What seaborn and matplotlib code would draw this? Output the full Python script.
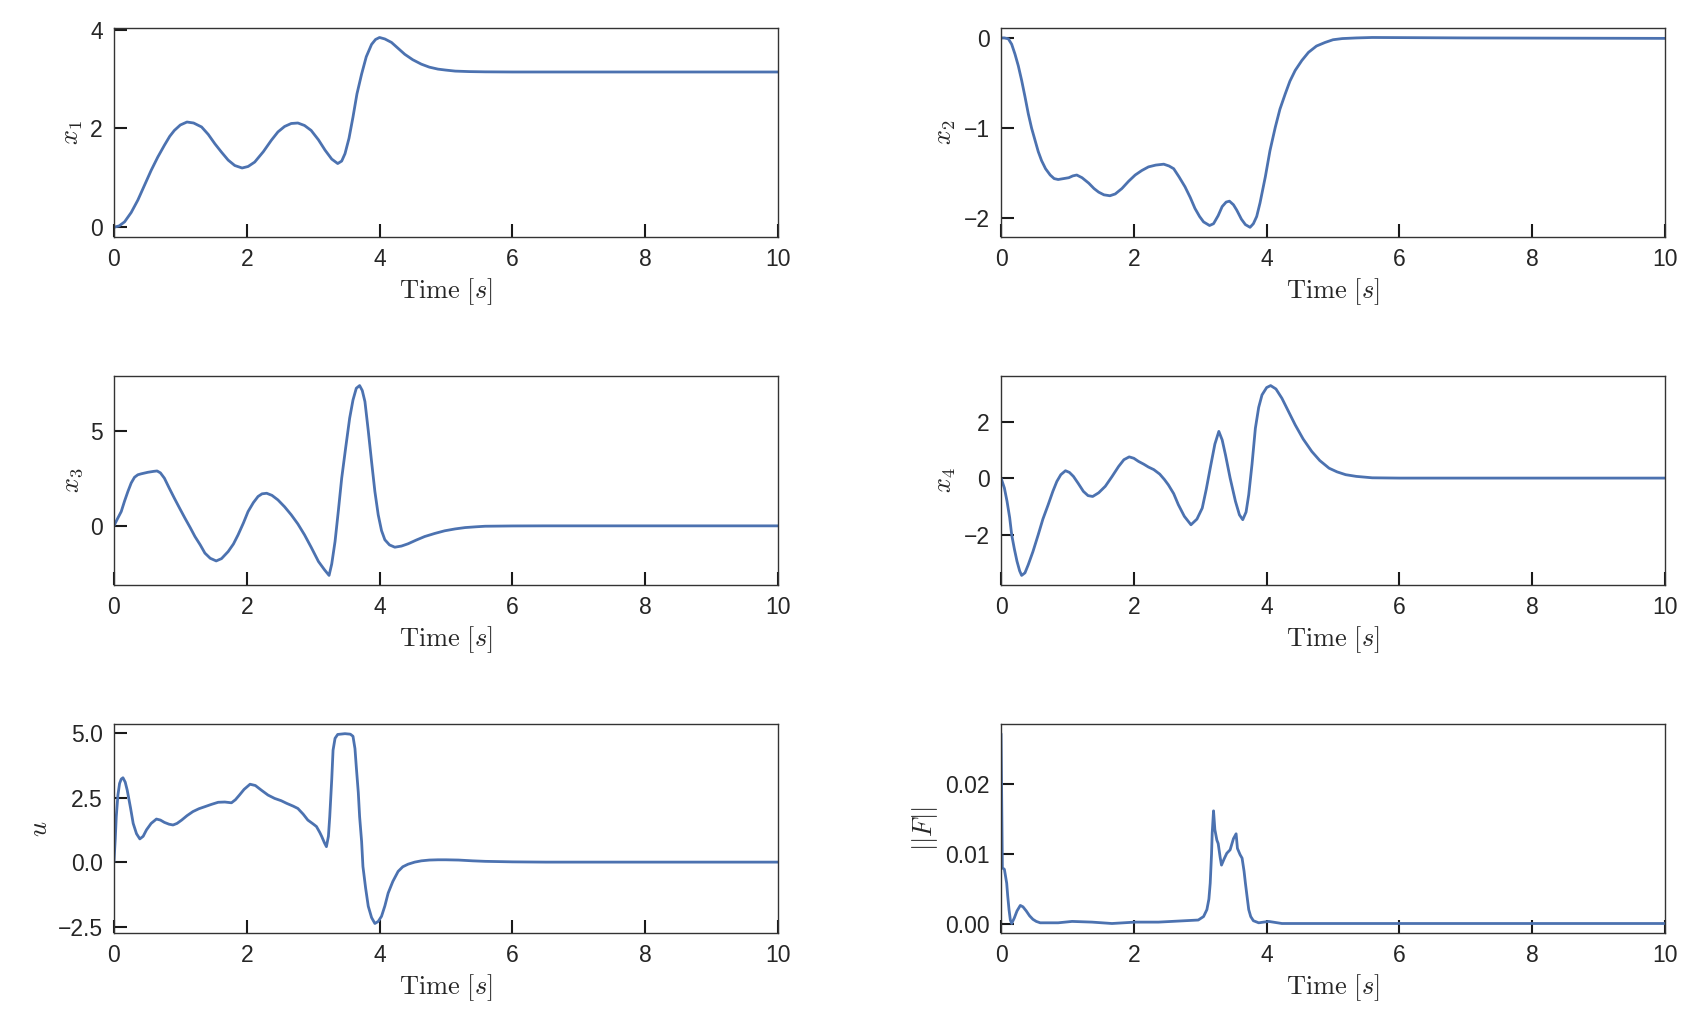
import matplotlib
matplotlib.use('Agg')
import matplotlib.pyplot as plt
import seaborn as sns

# Values (time in seconds)
t_x1 = [0, 0.08, 0.16, 0.26, 0.36, 0.46, 0.56, 0.66, 0.76, 0.84, 0.91, 1.0, 1.1, 1.2, 1.32,
        1.42, 1.52, 1.62, 1.72, 1.82, 1.93, 2.02, 2.12, 2.25, 2.37, 2.47, 2.57, 2.67, 2.77, 2.87,
        2.97, 3.08, 3.18, 3.28, 3.37, 3.43, 3.48, 3.54, 3.6, 3.66, 3.73, 3.8, 3.88, 3.94, 4.0,
        4.08, 4.18, 4.28, 4.38, 4.5, 4.63, 4.75, 4.88, 5.0, 5.14, 5.35, 5.59, 6, 8, 10]
x1 = [0.0, 0.03, 0.11, 0.3, 0.55, 0.85, 1.15, 1.42, 1.66, 1.84, 1.96, 2.07, 2.13, 2.11, 2.03,
      1.88, 1.69, 1.52, 1.36, 1.25, 1.2, 1.23, 1.32, 1.53, 1.76, 1.93, 2.04, 2.1, 2.11, 2.06,
      1.96, 1.77, 1.56, 1.38, 1.29, 1.34, 1.49, 1.8, 2.23, 2.7, 3.1, 3.45, 3.7, 3.8, 3.84,
      3.81, 3.74, 3.62, 3.5, 3.39, 3.3, 3.24, 3.2, 3.18, 3.16, 3.15, 3.145, 3.142, 3.142, 3.142]

t_x2 = [0, 0.05, 0.11, 0.16, 0.21, 0.26, 0.31, 0.36, 0.41, 0.46, 0.51, 0.56, 0.61, 0.67, 0.74,
        0.8, 0.86, 0.94, 1.02, 1.08, 1.14, 1.22, 1.32, 1.4, 1.47, 1.55, 1.64, 1.72, 1.82, 1.92,
        2.02, 2.12, 2.22, 2.33, 2.45, 2.53, 2.6, 2.68, 2.77, 2.85, 2.92, 2.99, 3.05, 3.14, 3.2,
        3.27, 3.33, 3.39, 3.44, 3.5, 3.55, 3.62, 3.68, 3.75, 3.8, 3.85, 3.9, 3.98, 4.05, 4.13,
        4.2, 4.28, 4.35, 4.43, 4.53, 4.63, 4.75, 4.88, 5.0, 5.14, 5.35, 5.59, 7, 10]
x2 = [0.0, 0.0, -0.01, -0.07, -0.18, -0.31, -0.47, -0.65, -0.84, -1.0, -1.13, -1.26, -1.36,
      -1.45, -1.52, -1.56, -1.57, -1.56, -1.55, -1.53, -1.52, -1.55, -1.61, -1.67, -1.71, -1.74,
      -1.75, -1.73, -1.67, -1.59, -1.52, -1.47, -1.43, -1.41, -1.4, -1.42, -1.45, -1.54, -1.65,
      -1.77, -1.89, -1.98, -2.04, -2.08, -2.06, -1.97, -1.87, -1.82, -1.81, -1.85, -1.91, -2.01,
      -2.07, -2.1, -2.06, -1.98, -1.83, -1.54, -1.25, -0.99, -0.79, -0.62, -0.48, -0.36, -0.25,
      -0.16, -0.09, -0.05, -0.02, -0.007, 0.0, 0.005, 0.0, -0.005]

t_x3 = [0, 0.05, 0.11, 0.16, 0.21, 0.26, 0.31, 0.36, 0.41, 0.51, 0.6, 0.65, 0.7, 0.76, 0.83,
        0.91, 0.99, 1.07, 1.15, 1.22, 1.3, 1.37, 1.45, 1.54, 1.62, 1.72, 1.8, 1.87, 1.95, 2.02,
        2.1, 2.17, 2.23, 2.3, 2.38, 2.47, 2.57, 2.67, 2.77, 2.87, 2.97, 3.08, 3.17, 3.24, 3.28,
        3.33, 3.38, 3.43, 3.49, 3.55, 3.6, 3.65, 3.7, 3.74, 3.78, 3.83, 3.88, 3.93, 3.98, 4.03,
        4.08, 4.15, 4.23, 4.33, 4.43, 4.55, 4.68, 4.83, 4.98, 5.14, 5.29, 5.45, 5.59, 6.0, 6.5, 10]
x3 = [0.0, 0.35, 0.75, 1.3, 1.8, 2.25, 2.55, 2.68, 2.73, 2.81, 2.86, 2.88, 2.78, 2.5, 2.0,
      1.45, 0.92, 0.4, -0.1, -0.56, -1.0, -1.43, -1.7, -1.84, -1.72, -1.35, -0.95, -0.47, 0.15,
      0.75, 1.22, 1.54, 1.68, 1.71, 1.6, 1.36, 1.0, 0.58, 0.1, -0.47, -1.12, -1.87, -2.3, -2.6,
      -2.0, -0.82, 0.8, 2.5, 4.1, 5.65, 6.6, 7.22, 7.36, 7.1, 6.52, 5.0, 3.37, 1.8, 0.58, -0.25,
      -0.73, -1.0, -1.12, -1.06, -0.94, -0.75, -0.56, -0.4, -0.26, -0.16, -0.09, -0.05, -0.02,
      -0.005, 0.0, 0.0]

t_x4 = [0, 0.05, 0.09, 0.13, 0.16, 0.2, 0.24, 0.28, 0.31, 0.36, 0.41, 0.48, 0.56, 0.63, 0.71,
        0.78, 0.84, 0.9, 0.97, 1.03, 1.09, 1.16, 1.24, 1.31, 1.38, 1.47, 1.57, 1.67, 1.77, 1.85,
        1.93, 2.0, 2.07, 2.15, 2.22, 2.3, 2.39, 2.46, 2.52, 2.6, 2.67, 2.76, 2.86, 2.95, 3.03,
        3.09, 3.15, 3.22, 3.28, 3.33, 3.38, 3.45, 3.53, 3.59, 3.64, 3.69, 3.73, 3.78, 3.83, 3.88,
        3.93, 4.0, 4.06, 4.14, 4.23, 4.33, 4.43, 4.55, 4.68, 4.8, 4.94, 5.06, 5.19, 5.35, 5.59,
        6.0, 10]
x4 = [0.0, -0.35, -0.82, -1.4, -2.0, -2.5, -2.94, -3.28, -3.44, -3.35, -3.06, -2.6, -2.0,
      -1.45, -0.94, -0.47, -0.12, 0.12, 0.26, 0.2, 0.06, -0.18, -0.47, -0.62, -0.65, -0.52,
      -0.29, 0.05, 0.41, 0.65, 0.75, 0.7, 0.59, 0.49, 0.39, 0.3, 0.14, -0.05, -0.24, -0.55,
      -0.94, -1.35, -1.65, -1.45, -1.06, -0.4, 0.35, 1.2, 1.65, 1.35, 0.82, 0.0, -0.82, -1.3,
      -1.47, -1.2, -0.59, 0.5, 1.76, 2.5, 2.94, 3.2, 3.27, 3.15, 2.82, 2.35, 1.88, 1.38, 0.94,
      0.62, 0.35, 0.22, 0.12, 0.06, 0.01, 0.0, 0.0]

t_u = [0, 0.02, 0.035, 0.06, 0.085, 0.11, 0.136, 0.17, 0.2, 0.25, 0.29, 0.34, 0.39, 0.44, 0.49,
       0.56, 0.64, 0.7, 0.76, 0.83, 0.89, 0.95, 1.02, 1.1, 1.19, 1.28, 1.37, 1.47, 1.57, 1.67,
       1.77, 1.83, 1.89, 1.96, 2.05, 2.13, 2.22, 2.32, 2.42, 2.52, 2.6, 2.7, 2.77, 2.85, 2.92,
       3.0, 3.05, 3.1, 3.13, 3.17, 3.2, 3.23, 3.25, 3.28, 3.3, 3.33, 3.37, 3.48, 3.56, 3.6, 3.63,
       3.65, 3.68, 3.7, 3.73, 3.75, 3.79, 3.83, 3.88, 3.93, 3.98, 4.03, 4.08, 4.13, 4.2, 4.28,
       4.35, 4.43, 4.53, 4.63, 4.75, 4.88, 5.0, 5.19, 5.4, 5.59, 6.0, 6.5, 10]
u = [0.0, 0.9, 1.76, 2.6, 3.05, 3.22, 3.27, 3.1, 2.79, 2.1, 1.5, 1.1, 0.9, 1.0, 1.25, 1.5,
     1.67, 1.63, 1.54, 1.47, 1.44, 1.5, 1.63, 1.8, 1.96, 2.07, 2.15, 2.24, 2.32, 2.33, 2.3,
     2.42, 2.6, 2.82, 3.02, 2.97, 2.79, 2.6, 2.47, 2.38, 2.28, 2.17, 2.08, 1.86, 1.63, 1.48,
     1.38, 1.15, 0.99, 0.75, 0.6, 1.0, 1.76, 3.2, 4.34, 4.8, 4.95, 4.98, 4.96, 4.88, 4.4, 3.69,
     2.7, 1.76, 0.8, -0.17, -1.0, -1.71, -2.15, -2.38, -2.3, -2.1, -1.7, -1.2, -0.75, -0.36,
     -0.18, -0.08, 0.0, 0.05, 0.08, 0.09, 0.09, 0.08, 0.05, 0.03, 0.01, 0.0, 0.0]

t_F = [0, 0.02, 0.05, 0.085, 0.1, 0.12, 0.14, 0.16, 0.2, 0.24, 0.29, 0.33, 0.38, 0.43, 0.48,
       0.53, 0.59, 0.86, 1.07, 1.37, 1.67, 2.02, 2.37, 2.77, 2.97, 3.05, 3.1, 3.13, 3.15, 3.17,
       3.18, 3.2, 3.22, 3.23, 3.25, 3.27, 3.3, 3.32, 3.36, 3.4, 3.45, 3.5, 3.54, 3.56, 3.6, 3.63,
       3.66, 3.68, 3.71, 3.73, 3.76, 3.8, 3.88, 4.03, 4.23, 6, 10]
F = [0.0273, 0.008, 0.0078, 0.0058, 0.004, 0.002, 0.0005, 0.0, 0.0008, 0.0018, 0.0026, 0.0024,
     0.0018, 0.0011, 0.0006, 0.0003, 0.0001, 0.0001, 0.0003, 0.0002, 0.0, 0.0002, 0.0002, 0.0004,
     0.0005, 0.001, 0.002, 0.0035, 0.0058, 0.01, 0.013, 0.0162, 0.0135, 0.013, 0.012, 0.0115,
     0.0095, 0.0084, 0.0093, 0.0101, 0.0106, 0.0122, 0.0129, 0.0108, 0.0099, 0.0094, 0.0075,
     0.0058, 0.0035, 0.002, 0.001, 0.0004, 0.0001, 0.0003, 0.0, 0.0, 0.0]

series = [(t_x1, x1, r'$x_1$', [0, 2, 4]),
          (t_x2, x2, r'$x_2$', [-2, -1, 0]),
          (t_x3, x3, r'$x_3$', [0, 5]),
          (t_x4, x4, r'$x_4$', [-2, 0, 2]),
          (t_u, u, r'$u$', [-2.5, 0.0, 2.5, 5.0]),
          (t_F, F, r'$||F||$', [0.0, 0.01, 0.02])]

sns.set_theme(style='ticks')
plt.rcParams['font.family'] = ['Liberation Sans', 'DejaVu Sans']
plt.rcParams['mathtext.fontset'] = 'cm'

fig, axes = plt.subplots(3, 2, figsize=(16.98, 10.29), dpi=100)
fig.subplots_adjust(left=0.0671, right=0.9806, top=0.9728, bottom=0.0933,
                    wspace=0.336, hspace=0.667)

for ax, (t, y, label, yticks) in zip(axes.flat, series):
    sns.lineplot(x=t, y=y, ax=ax, color='#4c72b0', linewidth=2)
    ax.set_xlim(0, 10)
    ax.set_xticks([0, 2, 4, 6, 8, 10])
    ax.set_yticks(yticks)
    ax.set_xlabel(r'$\mathrm{Time}\ [s]$', fontsize=19)
    ax.set_ylabel(label, fontsize=19)
    ax.tick_params(direction='in', length=9.5, width=1.5, pad=8,
                   labelsize=16.5, color='#1a1a1a', labelcolor='#262626')
    for sp in ax.spines.values():
        sp.set_linewidth(1.0)
        sp.set_color('#333333')

fig.savefig('out.png', dpi=100)
